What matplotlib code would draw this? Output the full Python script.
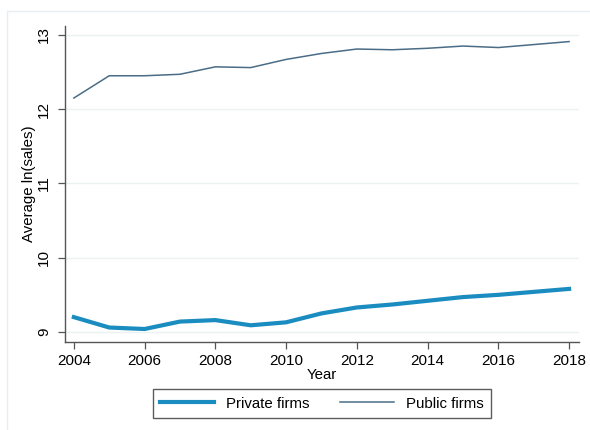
import matplotlib
matplotlib.use("Agg")
import matplotlib.pyplot as plt
from matplotlib.patches import Rectangle

plt.rcParams['font.family'] = ['Liberation Sans', 'DejaVu Sans']

# data
years = [2004, 2005, 2006, 2007, 2008, 2009, 2010, 2011,
         2012, 2013, 2014, 2015, 2016, 2017, 2018]
private_firms = [9.20, 9.06, 9.04, 9.14, 9.16, 9.09, 9.13, 9.25,
                 9.33, 9.37, 9.42, 9.47, 9.50, 9.54, 9.58]
public_firms = [12.15, 12.45, 12.45, 12.47, 12.57, 12.56, 12.67, 12.75,
                12.81, 12.80, 12.82, 12.85, 12.83, 12.87, 12.91]
x_ticks = [2004, 2006, 2008, 2010, 2012, 2014, 2016, 2018]
y_ticks = [9, 10, 11, 12, 13]

fig = plt.figure(figsize=(5.9, 4.3), dpi=100)

# light outer frame (cropped on the right and bottom)
fig.patches.append(Rectangle((7 / 590, -0.1), 1.2, 1 - 11 / 430 + 0.1,
                             transform=fig.transFigure, fill=False,
                             edgecolor='#e6eef0', linewidth=1.0))

ax = fig.add_axes([65 / 590, 1 - 342 / 430, (579 - 65) / 590, (342 - 26) / 430])

ax.plot(years, private_firms, color='#1a8cc0', linewidth=3.0, label='Private firms')
ax.plot(years, public_firms, color='#4a6c86', linewidth=1.1, label='Public firms')

ax.set_xlim(2003.75, 2018.28)
ax.set_ylim(8.865, 13.12)
ax.set_xticks(x_ticks)
ax.set_yticks(y_ticks)
for t in y_ticks:
    ax.axhline(t, color='#eaf2f3', linewidth=1.0, zorder=0)

for s in ['top', 'right']:
    ax.spines[s].set_visible(False)
for s in ['left', 'bottom']:
    ax.spines[s].set_color('#555555')
    ax.spines[s].set_linewidth(1.0)

ax.tick_params(axis='both', length=5, width=0.9, color='#555555',
               labelsize=11, labelcolor='black')
ax.tick_params(axis='y', pad=5)
plt.setp(ax.get_yticklabels(), rotation=90, va='center')

ax.set_xlabel('Year', fontsize=10.8, labelpad=0)
ax.set_ylabel('Average ln(sales)', fontsize=10.8, labelpad=1)

leg = ax.legend(loc='upper center', bbox_to_anchor=(0.5, -0.125), ncol=2,
                frameon=True, fancybox=False, fontsize=10.8,
                handlelength=3.6, columnspacing=2.0, borderpad=0.5,
                handletextpad=0.8)
leg.get_frame().set_edgecolor('#333333')
leg.get_frame().set_linewidth(1.0)

fig.savefig('out.png', dpi=100, facecolor='white')
